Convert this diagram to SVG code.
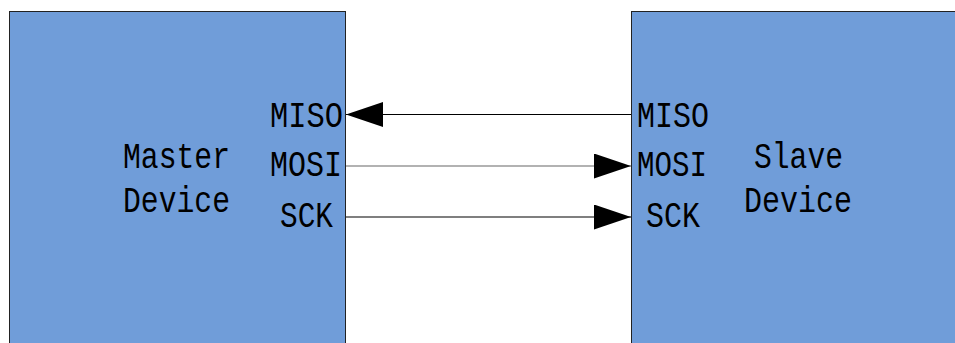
<svg xmlns="http://www.w3.org/2000/svg" width="955" height="343" viewBox="0 0 955 343">
<defs>
<style>
.box{fill:#709dd9;stroke:#222;stroke-width:1}
.t{font-family:"Liberation Mono","DejaVu Sans Mono",monospace;font-size:36px;fill:#000}
.c{stroke:#000;stroke-width:1.2;fill:none}
.g{stroke:#666}
</style>
<marker id="ah" markerUnits="userSpaceOnUse" markerWidth="38" markerHeight="26" refX="37" refY="12.5" orient="auto">
<path d="M0,0 L37,12.5 L0,25 Z" fill="#000"/>
</marker>
</defs>
<rect width="955" height="343" fill="#fff"/>
<g id="master">
<rect class="box" x="9.5" y="11.5" width="336" height="340"/>
<text class="t" x="123" y="168" textLength="107" lengthAdjust="spacingAndGlyphs">Master</text>
<text class="t" x="123" y="212" textLength="107" lengthAdjust="spacingAndGlyphs">Device</text>
<text class="t" x="270" y="127" textLength="73" lengthAdjust="spacingAndGlyphs">MISO</text>
<text class="t" x="270" y="176" textLength="72" lengthAdjust="spacingAndGlyphs">MOSI</text>
<text class="t" x="280" y="227" textLength="53" lengthAdjust="spacingAndGlyphs">SCK</text>
</g>
<g id="slave">
<rect class="box" x="631.5" y="11.5" width="340" height="340"/>
<text class="t" x="754" y="168" textLength="89" lengthAdjust="spacingAndGlyphs">Slave</text>
<text class="t" x="744" y="212" textLength="108" lengthAdjust="spacingAndGlyphs">Device</text>
<text class="t" x="637" y="127" textLength="72" lengthAdjust="spacingAndGlyphs">MISO</text>
<text class="t" x="637" y="176" textLength="70" lengthAdjust="spacingAndGlyphs">MOSI</text>
<text class="t" x="646" y="227" textLength="54" lengthAdjust="spacingAndGlyphs">SCK</text>
</g>
<g id="connectors">
<line class="c" x1="631" y1="114.5" x2="346" y2="114.5" marker-end="url(#ah)"/>
<line class="c g" x1="346" y1="166" x2="631" y2="166" marker-end="url(#ah)"/>
<line class="c" x1="346" y1="217" x2="631" y2="217" marker-end="url(#ah)"/>
</g>
</svg>
